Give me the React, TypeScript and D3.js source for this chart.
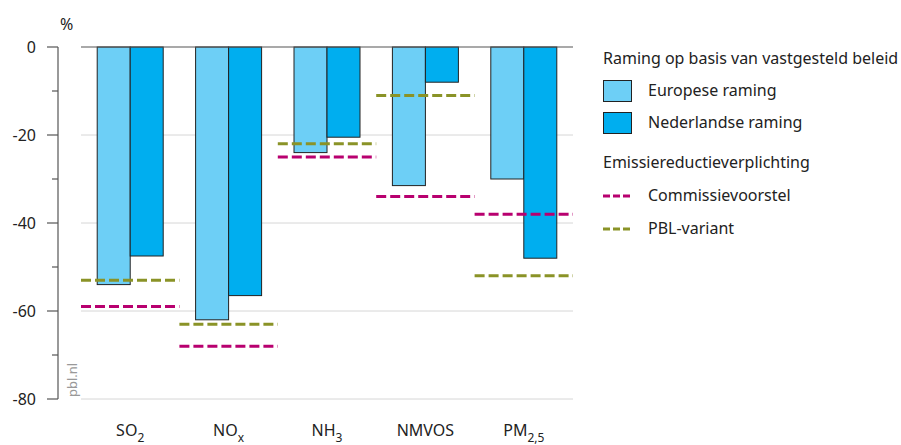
import React from "react";
import * as d3 from "d3";

const categories = ["SO2", "NOx", "NH3", "NMVOS", "PM2.5"];
const categoryMain = ["SO", "NO", "NH", "NMVOS", "PM"];
const categorySub = ["2", "x", "3", "", "2,5"];
const europeseRaming = [-54, -62, -24, -31.5, -30];
const nederlandseRaming = [-47.5, -56.5, -20.5, -8, -48];
const commissievoorstel = [-59, -68, -25, -34, -38];
const pblVariant = [-53, -63, -22, -11, -52];
const majorTicks = [0, -20, -40, -60, -80];
const minorTicks = [-10, -30, -50, -70];

const LIGHT = "#6dcff6";
const DARK = "#00aeef";
const MAGENTA = "#b8006f";
const OLIVE = "#8a9327";
const FONT = "'Noto Sans', 'Open Sans', sans-serif";

export default function App() {
  const W = 901, H = 445;
  const x0 = 81, x1 = 573;
  const y = d3.scaleLinear().domain([0, -80]).range([47, 399]);
  const xb = d3.scaleBand().domain(categories).range([x0, x0 + 98.4 * 5]).padding(0);
  const barW = 33;
  const axisX = 58;

  return (
    <svg width={W} height={H} style={{ position: "absolute", left: 0, top: 0, fontFamily: FONT }}>
      <rect width={W} height={H} fill="#fff" />
      {/* gridlines */}
      {majorTicks.filter(t => t !== 0).map(t => (
        <line key={t} x1={x0} x2={x1} y1={y(t)} y2={y(t)} stroke="#d6d6d6" strokeWidth={1} />
      ))}
      {/* bars */}
      {categories.map((c, i) => {
        const cx = (xb(c) as number) + xb.bandwidth() / 2;
        return (
          <g key={c}>
            <rect x={cx - barW} y={y(0)} width={barW} height={y(europeseRaming[i]) - y(0)} fill={LIGHT} stroke="#222" strokeWidth={1} />
            <rect x={cx} y={y(0)} width={barW} height={y(nederlandseRaming[i]) - y(0)} fill={DARK} stroke="#222" strokeWidth={1} />
          </g>
        );
      })}
      {/* dashed lines */}
      {categories.map((c, i) => {
        const bx = xb(c) as number;
        return (
          <g key={"d" + c}>
            <line x1={bx} x2={bx + xb.bandwidth()} y1={y(pblVariant[i])} y2={y(pblVariant[i])} stroke={OLIVE} strokeWidth={3} strokeDasharray="10 4" />
            <line x1={bx} x2={bx + xb.bandwidth()} y1={y(commissievoorstel[i])} y2={y(commissievoorstel[i])} stroke={MAGENTA} strokeWidth={3} strokeDasharray="10 4" />
          </g>
        );
      })}
      {/* zero line */}
      <line x1={x0} x2={x1} y1={y(0)} y2={y(0)} stroke="#555" strokeWidth={1.2} />
      {/* y axis */}
      <line x1={axisX} x2={axisX} y1={y(0)} y2={y(-80)} stroke="#555" strokeWidth={1.2} />
      {majorTicks.map(t => (
        <g key={"t" + t}>
          <line x1={axisX - 11} x2={axisX} y1={y(t)} y2={y(t)} stroke="#555" strokeWidth={1.2} />
          <text x={36} y={y(t) + 5.5} textAnchor="end" fontSize={16} fill="#222">{t}</text>
        </g>
      ))}
      {minorTicks.map(t => (
        <line key={"m" + t} x1={axisX - 6} x2={axisX} y1={y(t)} y2={y(t)} stroke="#555" strokeWidth={1.2} />
      ))}
      <text x={60} y={30} fontSize={16} fill="#222">%</text>
      <text transform={`translate(77,${y(-80) - 2}) rotate(-90)`} fontSize={13} fill="#999">pbl.nl</text>
      {/* x labels */}
      {categories.map((c, i) => {
        const cx = (xb(c) as number) + xb.bandwidth() / 2;
        return (
          <text key={"x" + c} x={cx} y={436} textAnchor="middle" fontSize={16} fill="#222">
            {categoryMain[i]}
            {categorySub[i] && <tspan fontSize={12} dy={6}>{categorySub[i]}</tspan>}
          </text>
        );
      })}
      {/* legend */}
      <g fontSize={16} fill="#222">
        <text x={603} y={64}>Raming op basis van vastgesteld beleid</text>
        <rect x={603.5} y={80.5} width={28} height={21} fill={LIGHT} stroke="#222" />
        <text x={648} y={96}>Europese raming</text>
        <rect x={603.5} y={112.5} width={28} height={21} fill={DARK} stroke="#222" />
        <text x={648} y={128}>Nederlandse raming</text>
        <text x={603} y={168}>Emissiereductieverplichting</text>
        <line x1={603} x2={631} y1={196} y2={196} stroke={MAGENTA} strokeWidth={3} strokeDasharray="7 3" />
        <text x={648} y={201}>Commissievoorstel</text>
        <line x1={603} x2={631} y1={229} y2={229} stroke={OLIVE} strokeWidth={3} strokeDasharray="7 3" />
        <text x={648} y={234}>PBL-variant</text>
      </g>
    </svg>
  );
}
